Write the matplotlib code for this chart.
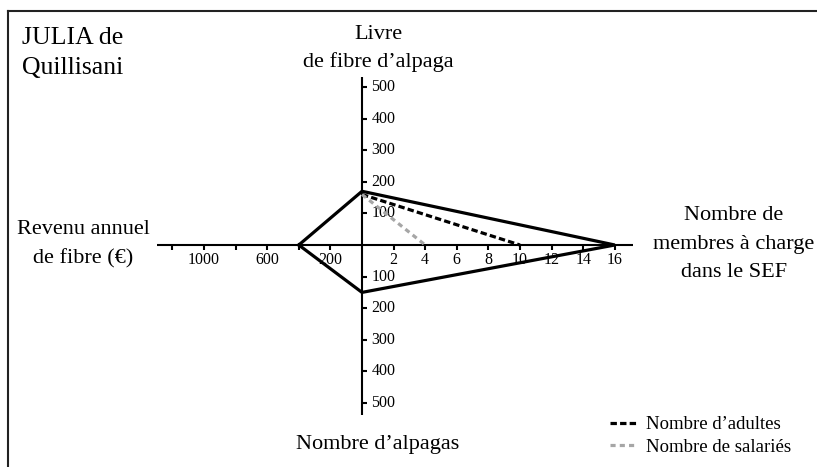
import matplotlib
matplotlib.use('Agg')
import matplotlib.pyplot as plt
from matplotlib.lines import Line2D

plt.rcParams['font.family'] = ['Liberation Serif', 'DejaVu Serif']

# ---- data ----
farm_name = ['JULIA de', 'Quillisani']
revenu_fibre = 400        # € (left axis)
livre_fibre = 170         # lb (top axis)
membres_charge = 16       # persons (right axis)
nb_alpagas = 150          # animals (bottom axis)
nb_adultes = 10
nb_salaries = 4
depart_pointilles = 160   # lb, where the dashed lines start

ticks_droite = [2, 4, 6, 8, 10, 12, 14, 16]
ticks_gauche = [200, 400, 600, 800, 1000, 1200]
labels_gauche = [200, 600, 1000]
ticks_vert = [100, 200, 300, 400, 500]

# ---- scales (one unit = one member on the right axis) ----
EUR_PER_UNIT = 100.0
LB_PER_UNIT = 50.0
PX = 15.8                 # pixels per unit
CX, CY = 362, 245         # centre, pixels
W, H = 817, 467


def rev(v):
    return -v / EUR_PER_UNIT


def lb(v):
    return v / LB_PER_UNIT


def alp(v):
    return -v / LB_PER_UNIT


fig = plt.figure(figsize=(W / 100, H / 100), dpi=100)
ax = fig.add_axes([0, 0, 1, 1])
ax.set_xlim(-CX / PX, (W - CX) / PX)
ax.set_ylim(-(H - CY) / PX, CY / PX)
ax.axis('off')

axis_kw = dict(color='black', lw=1.5, solid_capstyle='butt', zorder=2)
tick = 5 / PX
TICK_FS = 11.5
ax.plot([rev(1300), 17.15], [0, 0], **axis_kw)
ax.plot([0, 0], [alp(538), lb(532)], **axis_kw)

for t in ticks_droite:
    ax.plot([t, t], [0, -tick], **axis_kw)
    ax.text(t, -15 / PX, str(t), ha='center', va='center', fontsize=TICK_FS)
for t in ticks_gauche:
    ax.plot([rev(t), rev(t)], [0, -tick], **axis_kw)
for t in labels_gauche:
    ax.text(rev(t), -15 / PX, str(t), ha='center', va='center', fontsize=TICK_FS)
for t in ticks_vert:
    for y in (lb(t), alp(t)):
        ax.plot([0, tick], [y, y], **axis_kw)
        ax.text(9.5 / PX, y, str(t), ha='left', va='center', fontsize=TICK_FS)

# main diamond
px = [rev(revenu_fibre), 0, membres_charge, 0, rev(revenu_fibre)]
py = [0, lb(livre_fibre), 0, alp(nb_alpagas), 0]
ax.plot(px, py, color='black', lw=2.3, solid_joinstyle='miter', zorder=4)

l1, = ax.plot([0, nb_adultes], [lb(depart_pointilles), 0], color='black', lw=2.3,
              dashes=(2, 1), zorder=3, label='Nombre d\u2019adultes')
l2, = ax.plot([0, nb_salaries], [lb(depart_pointilles), 0], color='#a6a6a6', lw=2.3,
              dashes=(1.6, 1.3), zorder=3, label='Nombre de salari\u00e9s')

leg = fig.legend(handles=[l1, l2], loc='lower left', bbox_to_anchor=(610 / W, 1 - 456 / H),
                 frameon=False, fontsize=13.5, handlelength=1.4, handletextpad=0.5,
                 labelspacing=0.3, borderaxespad=0, borderpad=0)


def ftext(x, baselines, lines, **kw):
    for y, s in zip(baselines, lines):
        fig.text(x / W, 1 - y / H, s, va='baseline', **kw)


ftext(22, [44, 74], farm_name, ha='left', fontsize=18.5)
ftext(378, [39, 67], ['Livre', 'de fibre d\u2019alpaga'], ha='center', fontsize=16)
ftext(83, [234, 263], ['Revenu annuel', 'de fibre (\u20ac)'], ha='center', fontsize=16)
ftext(734, [220, 249, 277], ['Nombre de', 'membres \u00e0 charge', 'dans le SEF'],
      ha='center', fontsize=16)
ftext(378, [449], ['Nombre d\u2019alpagas'], ha='center', fontsize=16)

# frame (only top and left edges visible)
fig.add_artist(Line2D([8 / W, 8 / W], [0, 1 - 11 / H], color='#222222', lw=1.5,
                      transform=fig.transFigure))
fig.add_artist(Line2D([8 / W, 1], [1 - 11 / H, 1 - 11 / H], color='#222222', lw=1.5,
                      transform=fig.transFigure))

fig.savefig('out.png', dpi=100, facecolor='white')
